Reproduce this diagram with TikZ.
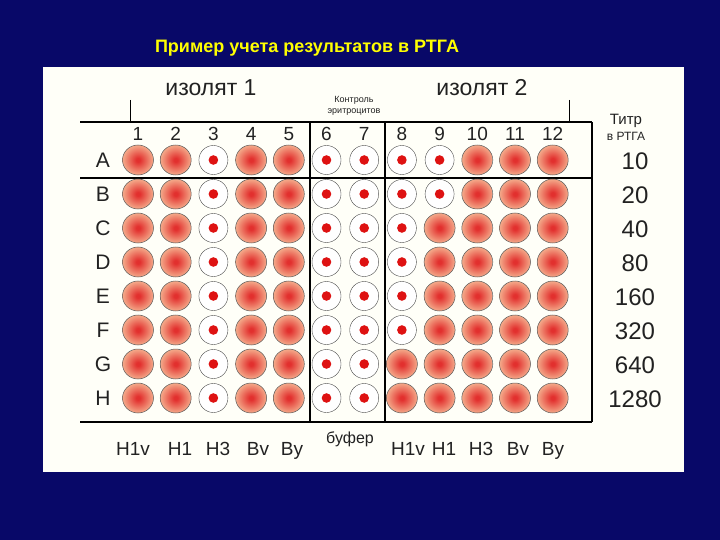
\documentclass[tikz,border=0pt]{standalone}
\usepackage{fontspec}
\setmainfont{Liberation Sans}
\definecolor{slide}{RGB}{8,8,104}
\definecolor{panel}{RGB}{255,255,248}
\definecolor{titleyellow}{RGB}{255,255,0}
\definecolor{wellin}{RGB}{226,48,46}
\definecolor{wellout}{RGB}{244,170,138}
\definecolor{dotred}{RGB}{222,18,18}
\definecolor{ink}{RGB}{34,34,34}
\pgfdeclareradialshading{wellshade}{\pgfpoint{0bp}{0bp}}{color(0bp)=(wellin); color(3bp)=(wellin); color(25bp)=(wellout); color(50bp)=(wellout)}
\newcommand{\fs}[1]{\fontsize{#1}{#1}\selectfont}
\begin{document}
\begin{tikzpicture}[x=1pt,y=-1pt,
    fullwell/.style={draw=black!65,line width=0.5pt,shading=wellshade},
    ringwell/.style={draw=black!70,line width=0.4pt,fill=white},
    lbl/.style={text=ink,inner sep=0pt}]
                \useasboundingbox (0,0) rectangle (720,540);
                \fill[slide] (0,0) rectangle (720,540);
                \fill[panel] (43,67) rectangle (684,472);
                \node[text=titleyellow,font=\bfseries\fs{18}] (title) at (307,48) {Пример учета результатов в РТГА};
                \node[lbl,font=\fs{23}] (isoone) at (211,88) {изолят 1};
                \node[lbl,font=\fs{23}] (isotwo) at (482,88) {изолят 2};
                \node[lbl,font=\fs{9},align=center] (ctrl) at (354,106) {Контроль\\[2pt]эритроцитов};
                \node[lbl,font=\fs{15},align=center] (titerhead) at (626,127) {Титр\\[1pt]{\fs{12}в РТГА}};
                \draw[line width=1.6pt] (80,122) -- (592,122);
                \draw[line width=1.6pt] (80,178) -- (592,178);
                \draw[line width=1.2pt] (80,422) -- (592,422);
                \draw[line width=1.2pt] (592,122) -- (592,422);
                \draw[line width=1.4pt] (310,122) -- (310,422);
                \draw[line width=1.4pt] (385,122) -- (385,422);
                \draw[line width=0.8pt] (130,100) -- (130,122);
                \draw[line width=0.8pt] (569,100) -- (569,122);
                \foreach \c in {1,...,12}
                    \node[lbl,font=\fs{19}] (col\c) at ({138+37.7*(\c-1)},134) {\c};
                \foreach \l [count=\r] in {A,B,C,D,E,F,G,H}
                    \node[lbl,font=\fs{21}] (row\l) at (103,{160+34*(\r-1)}) {\l};
                \foreach \t [count=\r] in {10,20,40,80,160,320,640,1280}
                    \node[lbl,font=\fs{24}] (titer\r) at (635,{161+34*(\r-1)}) {\t};
                \foreach \c/\n in {1/0,2/0,3/8,4/0,5/0,6/8,7/8,8/6,9/2,10/0,11/0,12/0}
                    \foreach \r in {1,...,8}
                    {\ifnum\r>\n
                        \draw[fullwell] ({138+37.7*(\c-1)},{160+34*(\r-1)}) ellipse (15.5 and 15);
                     \else
                        \draw[ringwell] ({138+37.7*(\c-1)},{160+34*(\r-1)}) circle (14.5);
                        \fill[dotred] ({138+37.7*(\c-1)},{160+34*(\r-1)}) circle (4.8);
                     \fi}
                \foreach \s/\x [count=\i] in {H1v/133,H1/180,H3/218,Bv/258,By/292,H1v/408,H1/444,H3/481,Bv/518,By/553}
                    \node[lbl,font=\fs{19},anchor=base] (sub\i) at (\x,455) {\s};
                \node[lbl,font=\fs{16},anchor=base] (buffer) at (350,443) {буфер};
\end{tikzpicture}
\end{document}
